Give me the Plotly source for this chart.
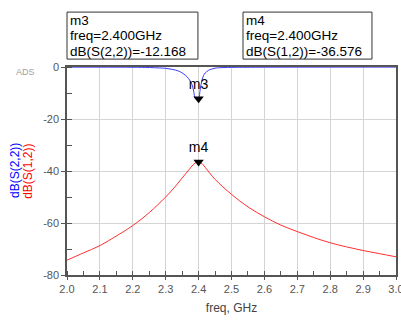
import plotly.graph_objects as go

freq_s22 = [2.0, 2.1, 2.2, 2.25, 2.28, 2.3, 2.32, 2.34, 2.35, 2.36, 2.37, 2.38, 2.385, 2.39, 2.395, 2.4,
            2.405, 2.41, 2.415, 2.42, 2.43, 2.44, 2.45, 2.46, 2.5, 2.6, 2.7, 2.8, 2.9, 3.0]
s22_db = [-0.05, -0.06, -0.1, -0.2, -0.35, -0.5, -0.9, -1.6, -2.3, -3.2, -4.5, -6.8, -9.3, -12.2, -12.6, -12.168,
          -8.5, -5.2, -3.3, -2.3, -1.3, -0.8, -0.45, -0.3, -0.15, -0.08, -0.05, -0.04, -0.03, -0.03]

freq_s12 = [2.0, 2.05, 2.1, 2.15, 2.2, 2.25, 2.3, 2.33, 2.35, 2.37, 2.38, 2.39, 2.4, 2.41, 2.42, 2.45,
            2.5, 2.55, 2.6, 2.65, 2.7, 2.75, 2.8, 2.85, 2.9, 2.95, 3.0]
s12_db = [-74.3, -71.5, -68.7, -65.0, -61.0, -56.0, -50.0, -45.8, -42.7, -39.6, -38.1, -36.9, -36.576, -37.1, -38.6, -43.2,
          -49.0, -53.8, -57.6, -60.8, -63.3, -65.6, -67.6, -69.2, -70.6, -71.8, -73.0]

marker_names = ["m3", "m4"]
marker_freq = [2.4, 2.4]
marker_vals = [-12.168, -36.576]
marker_lines = [["m3", "freq=2.400GHz", "dB(S(2,2))=-12.168"],
                ["m4", "freq=2.400GHz", "dB(S(1,2))=-36.576"]]

x_ticks = [2.0, 2.1, 2.2, 2.3, 2.4, 2.5, 2.6, 2.7, 2.8, 2.9, 3.0]
y_ticks = [0, -20, -40, -60, -80]

BLUE = "#3a3aff"
RED = "#ff3030"
FONT = "Liberation Sans, Arial, sans-serif"

fig = go.Figure()
fig.add_trace(go.Scatter(x=freq_s22, y=s22_db, mode="lines", line=dict(color=BLUE, width=1),
                         line_shape="spline", hoverinfo="skip"))
fig.add_trace(go.Scatter(x=freq_s12, y=s12_db, mode="lines", line=dict(color=RED, width=1),
                         line_shape="spline", hoverinfo="skip"))
fig.add_trace(go.Scatter(x=marker_freq, y=marker_vals, mode="markers+text", text=marker_names,
                         textposition="top center", textfont=dict(family=FONT, size=14, color="black"),
                         marker=dict(symbol="triangle-down", size=9, color="black"), hoverinfo="skip",
                         cliponaxis=False))

fig.update_layout(
    width=401, height=320, showlegend=False,
    margin=dict(l=67, r=5, t=67, b=45, autoexpand=False),
    plot_bgcolor="white", paper_bgcolor="white",
    font=dict(family=FONT),
)
fig.update_xaxes(range=[2.0, 3.0], tickvals=x_ticks, ticktext=[f"{v:.1f}" for v in x_ticks],
                 showgrid=True, gridcolor="#d4d4d4", gridwidth=1,
                 showline=True, linecolor="#555555", linewidth=1.5, mirror=True,
                 ticks="outside", ticklen=3, tickcolor="#555555",
                 tickfont=dict(size=11, color="#555555", family=FONT),
                 ticklabeloverflow="allow", automargin=False,
                 minor=dict(dtick=0.05, tick0=2.0, ticks="inside", ticklen=4, tickcolor="#555555", showgrid=False),
                 title=dict(text="freq, GHz", font=dict(size=12, color="#444444", family=FONT), standoff=10),
                 zeroline=False)
fig.update_yaxes(range=[-80, 0], tickvals=y_ticks, ticktext=[str(v) for v in y_ticks],
                 showgrid=True, gridcolor="#d4d4d4", gridwidth=1,
                 showline=True, linecolor="#555555", linewidth=1.5, mirror=True,
                 ticks="outside", ticklen=4, tickcolor="#555555",
                 tickfont=dict(size=11, color="#555555", family=FONT), automargin=False,
                 minor=dict(dtick=10, tick0=0, ticks="inside", ticklen=5, tickcolor="#555555", showgrid=False),
                 zeroline=False)

# y-axis titles (two colored)
fig.add_annotation(x=-0.158, y=0.5, xref="paper", yref="paper", xanchor="center", yanchor="middle",
                   text="dB(S(2,2))", textangle=-90,
                   showarrow=False, font=dict(size=12, color="blue", family=FONT))
fig.add_annotation(x=-0.119, y=0.5, xref="paper", yref="paper", xanchor="center", yanchor="middle",
                   text="dB(S(1,2))", textangle=-90,
                   showarrow=False, font=dict(size=12, color="red", family=FONT))
fig.add_annotation(x=-0.125, y=0.976, xref="paper", yref="paper", xanchor="center", yanchor="middle",
                   text="ADS", showarrow=False,
                   font=dict(size=9, color="#a0a0a0", family=FONT))

# marker readout boxes
box_x0 = [0.0, 0.535]
box_x1 = [0.398, 0.927]
line_y = [1.2236, 1.150, 1.0764]
for x0, x1, lines in zip(box_x0, box_x1, marker_lines):
    fig.add_shape(type="rect", xref="paper", yref="paper", x0=x0, x1=x1, y0=1.038, y1=1.264,
                  line=dict(color="#333333", width=1), fillcolor="white", layer="above")
    for ly, t in zip(line_y, lines):
        fig.add_annotation(x=x0 + 0.006, y=ly, xref="paper", yref="paper", xanchor="left", yanchor="middle",
                           text=t, showarrow=False, height=15, borderpad=0,
                           font=dict(size=13.5, color="black", family=FONT))

fig.write_html("out.html", config={"displayModeBar": False},
               post_script="document.body.style.margin='0';document.body.style.overflow='hidden';")
